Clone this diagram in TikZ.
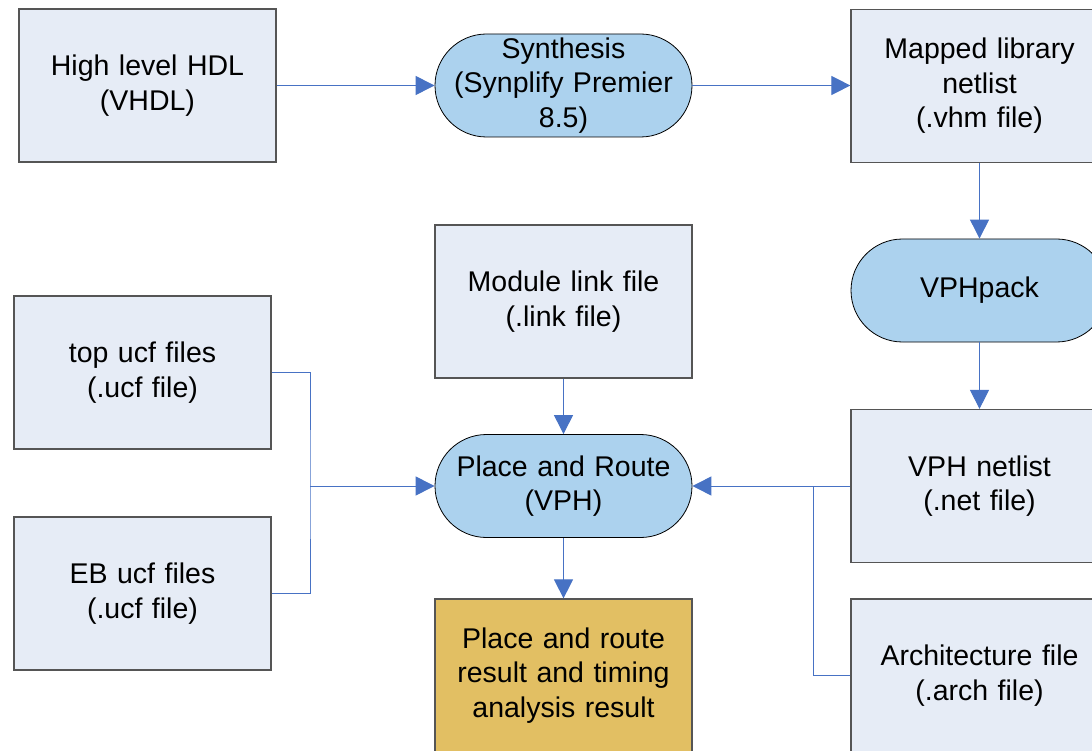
\documentclass[tikz,border=0pt]{standalone}
\usepackage{fontspec}
\setmainfont{Liberation Sans}
\usepackage{tikz}
\usetikzlibrary{arrows.meta}
\definecolor{filebg}{RGB}{230,236,246}
\definecolor{toolbg}{RGB}{172,210,238}
\definecolor{resultbg}{RGB}{226,191,99}
\definecolor{arrowblue}{RGB}{71,114,196}
\definecolor{boxgray}{RGB}{85,85,85}
\newcommand{\boxwidth}{257pt}
\newcommand{\boxheight}{153pt}
\tikzstyle{filebox}=[draw=boxgray, line width=1.2pt, fill=filebg, minimum width=\boxwidth, minimum height=\boxheight,
                     % Text is broken by hand, the width only keeps it centred.
                     inner sep=0, text width=250pt, align=center, font=\fontsize{28.5}{34.5}\selectfont]
\tikzstyle{resultbox}=[filebox, fill=resultbg]
\tikzstyle{toolbox}=[filebox, draw=black, line width=0.8pt, fill=toolbg, minimum height=103pt, rounded corners=51.5pt]
\tikzstyle{wire}=[draw=arrowblue, line width=1pt]
\tikzstyle{flowarrow}=[wire, -{Triangle[length=19pt, width=19pt]}]

\begin{document}
\begin{tikzpicture}[x=1pt, y=-1pt]
    \clip (0, 0) rectangle (1092, 751);
    \node[filebox]   (hdl)      at (147.5, 85.5)  {High level HDL\\(VHDL)};
    \node[toolbox]   (synth)    at (563.5, 85.5)  {Synthesis\\(Synplify Premier\\8.5)};
    \node[filebox]   (mapped)   at (979.5, 86)    {Mapped library\\netlist\\(.vhm file)};
    \node[toolbox]   (vphpack)  at (979.5, 290.5) {VPHpack};
    \node[filebox]   (linkfile) at (563.5, 301.5) {Module link file\\(.link file)};
    \node[filebox]   (topucf)   at (142.5, 372.5) {top ucf files\\(.ucf file)};
    \node[toolbox]   (pnr)      at (563.5, 486)   {Place and Route\\(VPH)};
    \node[filebox]   (vphnet)   at (979.5, 486)   {VPH netlist\\(.net file)};
    \node[filebox]   (ebucf)    at (142.5, 593.5) {EB ucf files\\(.ucf file)};
    \node[resultbox] (result)   at (563.5, 675.5) {Place and route\\result and timing\\analysis result};
    \node[filebox]   (arch)     at (979.5, 675.5) {Architecture file\\(.arch file)};
    \coordinate (ucfjoin)  at (310, 486);
    \coordinate (archjoin) at (813, 486);
    \draw[flowarrow] (hdl) -- (synth);
    \draw[flowarrow] (synth.east) -- (synth.east -| mapped.west);
    \draw[flowarrow] (mapped) -- (vphpack);
    \draw[flowarrow] (vphpack) -- (vphnet);
    \draw[flowarrow] (linkfile) -- (pnr);
    \draw[flowarrow] (pnr) -- (result);
    \draw[flowarrow] (vphnet) -- (pnr);
    \draw[wire] (arch.west) -| (archjoin);
    \draw[wire] (topucf.east) -| (ucfjoin) |- (ebucf.east);
    \draw[flowarrow] (ucfjoin) -- (pnr);
\end{tikzpicture}
\end{document}
